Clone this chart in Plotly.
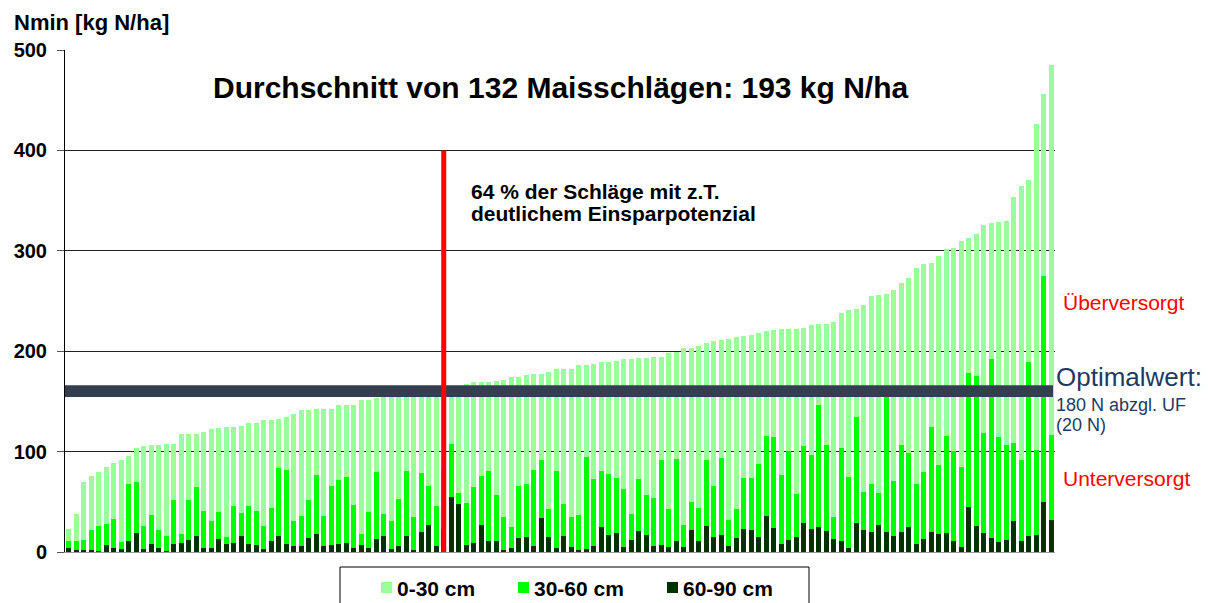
import plotly.graph_objects as go

# Cumulative heights per field (sorted by total)
total = [23, 38, 70, 76, 80, 85, 89, 92, 96, 104, 106, 107, 107, 108, 108, 118, 118, 118, 120, 123,
         124, 125, 125, 126, 128, 128, 131, 131, 132, 134, 137, 141, 141, 142, 142, 142, 146, 146, 146, 151,
         151, 153, 154, 155, 156, 157, 158, 159, 160, 161, 162, 163, 165, 167, 169, 169, 169, 170, 171, 174,
         174, 176, 177, 177, 179, 182, 182, 182, 186, 186, 187, 189, 189, 190, 192, 192, 193, 193, 194, 194,
         198, 199, 203, 203, 205, 208, 210, 211, 212, 214, 215, 216, 218, 220, 221, 222, 222, 222, 223, 226,
         227, 227, 229, 238, 241, 242, 246, 255, 256, 257, 261, 268, 273, 283, 287, 288, 295, 302, 303, 310,
         313, 317, 326, 328, 329, 330, 354, 365, 371, 426, 456, 485]
top_30_90 = [11, 11, 12, 22, 26, 28, 33, 10, 68, 70, 26, 37, 22, 16, 52, 18, 52, 65, 41, 31,
             40, 15, 46, 39, 46, 41, 26, 44, 84, 82, 31, 36, 52, 77, 36, 66, 72, 75, 47, 18,
             40, 80, 38, 31, 53, 81, 35, 79, 66, 46, 83, 108, 59, 49, 65, 76, 81, 57, 35, 25,
             66, 68, 82, 92, 43, 81, 48, 35, 37, 95, 73, 81, 78, 74, 63, 38, 73, 57, 54, 92,
             43, 93, 27, 50, 44, 92, 66, 94, 32, 43, 74, 74, 88, 116, 115, 77, 101, 58, 106, 97,
             146, 107, 35, 104, 75, 134, 60, 68, 59, 155, 71, 107, 99, 68, 80, 125, 87, 116, 101, 85,
             178, 175, 119, 192, 115, 107, 109, 92, 189, 102, 275, 117]
n60_90 = [4, 2, 2, 2, 1, 7, 4, 3, 11, 19, 3, 8, 4, 1, 8, 9, 12, 16, 4, 4,
          13, 8, 9, 16, 8, 7, 3, 11, 16, 8, 6, 6, 14, 18, 6, 7, 8, 9, 4, 7,
          4, 13, 16, 3, 6, 16, 2, 20, 27, 6, 23, 55, 48, 7, 9, 27, 11, 11, 2, 4,
          14, 15, 6, 34, 15, 4, 16, 5, 2, 3, 6, 25, 17, 19, 5, 12, 21, 17, 6, 7,
          5, 11, 5, 22, 11, 26, 15, 17, 6, 14, 23, 22, 15, 36, 24, 8, 12, 15, 29, 23,
          25, 21, 13, 11, 4, 29, 22, 20, 27, 20, 16, 20, 25, 8, 13, 20, 18, 19, 11, 5,
          45, 26, 19, 14, 10, 12, 31, 11, 16, 17, 50, 32]

n30_60 = [a - b for a, b in zip(top_30_90, n60_90)]
n0_30 = [a - b for a, b in zip(total, top_30_90)]
fields = list(range(1, len(total) + 1))

series_names = ["0-30 cm", "30-60 cm", "60-90 cm"]
colors = ["#99FF99", "#00FF00", "#003300"]
y_ticks = [0, 100, 200, 300, 400, 500]

FONT = "Liberation Sans, Arial, sans-serif"

# plot area in pixels: x 65..1055, y 50..552
L, R, T, B = 65, 153, 50, 51
PW, PH = 1208 - L - R, 603 - T - B


def px(x):
    return (x - L) / PW


def py(y):
    return (603 - B - y) / PH


fig = go.Figure()
for name, vals, col in [(series_names[2], n60_90, colors[2]),
                        (series_names[1], n30_60, colors[1]),
                        (series_names[0], n0_30, colors[0])]:
    fig.add_trace(go.Bar(x=fields, y=vals, name=name, showlegend=False,
                         marker=dict(color=col, line=dict(width=0))))

fig.update_layout(
    barmode="stack",
    bargap=0.27,
    width=1208, height=603,
    margin=dict(l=L, r=R, t=T, b=B, autoexpand=False),
    paper_bgcolor="white", plot_bgcolor="white",
    font=dict(family=FONT, color="black"),
    showlegend=False,
    xaxis=dict(range=[0.5, len(total) + 0.5], showticklabels=False, showgrid=False, zeroline=False,
               showline=True, linecolor="#999999", linewidth=1, ticks=""),
    yaxis=dict(range=[0, 500], tickvals=y_ticks, showgrid=True,
               gridcolor="#222222", gridwidth=1, zeroline=False, showline=True, linecolor="black",
               linewidth=1, ticks="outside", ticklen=7, tickcolor="#555555", ticklabelstandoff=6,
               tickfont=dict(size=20, weight="bold", family=FONT)),
)

# optimum band and red divider
fig.add_shape(type="rect", xref="paper", yref="y", x0=0, x1=0.998, y0=154.5, y1=166,
              fillcolor="#333F50", line=dict(width=0), layer="above")
fig.add_shape(type="line", xref="x", yref="y", x0=51, x1=51, y0=0, y1=400,
              line=dict(color="#FF0000", width=5), layer="above")

# manual legend
fig.add_shape(type="rect", xref="paper", yref="paper", x0=px(340), x1=px(809), y0=py(612), y1=py(567),
              line=dict(color="black", width=1), fillcolor="white")
leg = [(381, 397), (518, 534), (667, 683)]
for (mx, tx), name, col in zip(leg, series_names, colors):
    fig.add_shape(type="rect", xref="paper", yref="paper", x0=px(mx), x1=px(mx + 11),
                  y0=py(593), y1=py(582), line=dict(width=0), fillcolor=col)
    fig.add_annotation(xref="paper", yref="paper", x=px(tx - 2), y=py(588), xanchor="left",
                       yanchor="middle", showarrow=False, text=name,
                       font=dict(size=21, weight="bold"))

ann = [
    dict(text="Nmin [kg N/ha]", x=px(12), y=py(22), xanchor="left", font=dict(size=22, weight="bold")),
    dict(text="Durchschnitt von 132 Maisschlägen: 193 kg N/ha", x=px(560.5), y=py(87), xanchor="center",
         font=dict(size=30, weight="bold")),
    dict(text="64 % der Schläge mit z.T.", x=px(469), y=py(191), xanchor="left",
         font=dict(size=21, weight="bold")),
    dict(text="deutlichem Einsparpotenzial", x=px(469), y=py(213), xanchor="left",
         font=dict(size=21, weight="bold")),
    dict(text="Überversorgt", x=px(1061), y=py(302), xanchor="left",
         font=dict(size=21, color="#FF0000")),
    dict(text="Optimalwert:", x=px(1054), y=py(377), xanchor="left",
         font=dict(size=26, color="#1F3A60")),
    dict(text="180 N abzgl. UF", x=px(1054), y=py(405), xanchor="left",
         font=dict(size=18, color="#1F3A60")),
    dict(text="(20 N)", x=px(1054), y=py(425), xanchor="left",
         font=dict(size=18, color="#1F3A60")),
    dict(text="Unterversorgt", x=px(1061), y=py(478), xanchor="left",
         font=dict(size=21, color="#FF0000")),
]
for a in ann:
    fig.add_annotation(xref="paper", yref="paper", showarrow=False, yanchor="middle", **a)

fig.write_html("out.html", config={"displayModeBar": False},
               post_script="document.body.style.margin='0px';document.body.style.overflow='hidden';")
